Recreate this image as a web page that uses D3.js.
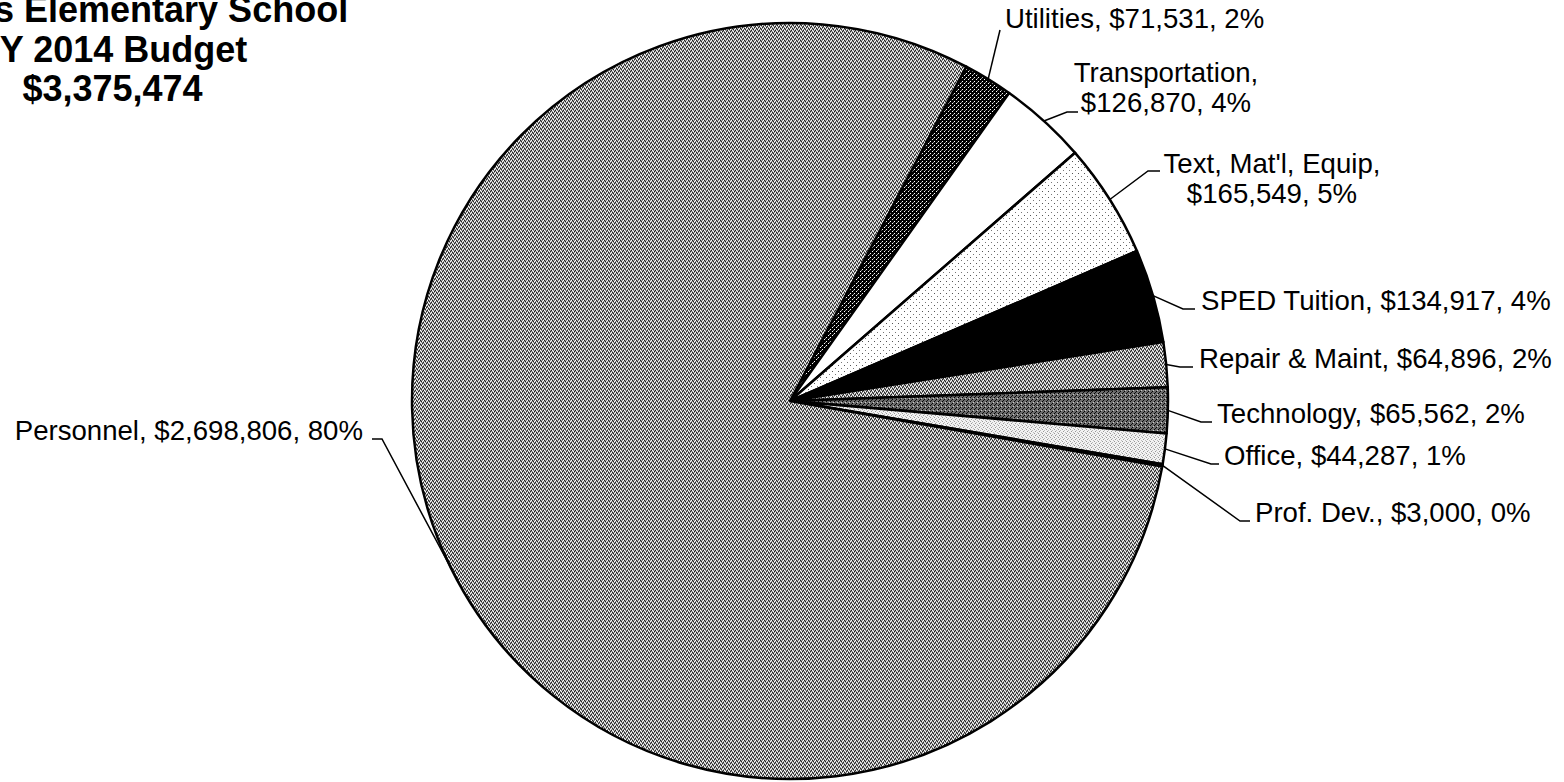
<!DOCTYPE html>
<html lang="en">
<head>
<meta charset="UTF-8">
<title>FY 2014 Budget</title>
<style>
  body { margin: 0; background: #fff; }
  svg { display: block; font-family: "Liberation Sans", Arial, sans-serif; }
</style>
</head>
<body>
<script src="https://d3js.org/d3.v7.min.js"></script>
<script>
// slices, clockwise from the top right
const categories = ["Utilities", "Transportation", "Text, Mat'l, Equip", "SPED Tuition", "Repair & Maint",
  "Technology", "Office", "Prof. Dev.", "Personnel"];
const amounts = [71531, 126870, 165549, 134917, 64896, 65562, 44287, 3000, 2698806];
const titleLines = ["s Elementary School", "FY 2014 Budget", "$3,375,474"];

const fills = ["url(#dark)", "#fff", "url(#sparse)", "#000", "url(#gray)", "url(#darkgray)", "url(#light)", "#000", "url(#gray)"];

// where each label sits, and where its leader line meets it
const labelLayout = [
  {x: 1005, y: 28, anchor: "start", hook: [1000, 30], elbow: [1000, 30]},
  {x: 1166, y: 82, anchor: "middle", wrap: true, hook: [1078, 112], elbow: [1067, 112]},
  {x: 1272, y: 173, anchor: "middle", wrap: true, hook: [1160, 171], elbow: [1148, 171]},
  {x: 1201, y: 310, anchor: "start", hook: [1195, 309], elbow: [1183, 309]},
  {x: 1199, y: 368, anchor: "start", hook: [1193, 367], elbow: [1180, 367]},
  {x: 1217, y: 423, anchor: "start", hook: [1212, 422], elbow: [1201, 422]},
  {x: 1224, y: 465, anchor: "start", hook: [1219, 464], elbow: [1211, 464]},
  {x: 1255, y: 522, anchor: "start", hook: [1250, 521], elbow: [1240, 521]},
  {x: 363, y: 440, anchor: "end", hook: [372, 439], elbow: [382, 439]}
];

const width = 1564, height = 782;
const cx = 790, cy = 401, r = 378;
const a0 = 27.8 * Math.PI / 180;

const total = d3.sum(amounts);
const money = d3.format("$,");

const svg = d3.select("body").append("svg")
  .attr("width", width)
  .attr("height", height);

// dithered fills
const defs = svg.append("defs");
function dither(id, size, base, dots) {
  const p = defs.append("pattern")
    .attr("id", id)
    .attr("patternUnits", "userSpaceOnUse")
    .attr("width", size).attr("height", size);
  p.append("rect").attr("width", size).attr("height", size).attr("fill", base);
  dots.forEach(([x, y, c]) => p.append("rect")
    .attr("x", x).attr("y", y).attr("width", 1).attr("height", 1).attr("fill", c));
}
dither("gray", 4, "#959595", [[0, 0, "#fff"], [2, 1, "#fff"], [1, 3, "#fff"], [3, 2, "#fff"],
  [1, 1, "#222"], [3, 0, "#222"], [0, 2, "#222"], [2, 3, "#222"]]);
dither("darkgray", 4, "#6c6c6c", [[0, 0, "#000"], [2, 2, "#000"], [1, 3, "#111"], [3, 1, "#ccc"]]);
dither("light", 4, "#f2f2f2", [[0, 0, "#999"], [2, 1, "#bbb"], [1, 2, "#999"], [3, 3, "#bbb"]]);
dither("dark", 4, "#000", [[0, 0, "#fff"], [2, 2, "#fff"], [3, 1, "#888"]]);
dither("sparse", 6, "#fff", [[0, 0, "#555"], [3, 3, "#777"]]);

const pie = d3.pie().sort(null).startAngle(a0).endAngle(a0 + 2 * Math.PI);
const arcs = pie(amounts);
const arc = d3.arc().innerRadius(0).outerRadius(r);
const edge = d3.arc().innerRadius(r).outerRadius(r);

const g = svg.append("g").attr("transform", `translate(${cx},${cy})`);

g.selectAll("path.slice")
  .data(arcs)
  .join("path")
  .attr("class", "slice")
  .attr("d", arc)
  .attr("fill", (d, i) => fills[i])
  .attr("stroke", "#000")
  .attr("stroke-width", 2.5)
  .attr("stroke-linejoin", "round");

// leader lines
svg.append("g")
  .selectAll("polyline")
  .data(arcs)
  .join("polyline")
  .attr("fill", "none")
  .attr("stroke", "#000")
  .attr("stroke-width", 1.5)
  .attr("points", (d, i) => {
    const [ex, ey] = edge.centroid(d);
    const L = labelLayout[i];
    return [[cx + ex, cy + ey], L.elbow, L.hook].map(p => p.join(",")).join(" ");
  });

// labels
const labels = svg.append("g")
  .attr("font-size", 27.6)
  .attr("fill", "#000");

arcs.forEach((d, i) => {
  const L = labelLayout[i];
  const name = categories[i];
  const pct = Math.round(amounts[i] / total * 100) + "%";
  const lines = L.wrap
    ? [name + ",", money(amounts[i]) + ", " + pct]
    : [name + ", " + money(amounts[i]) + ", " + pct];
  const t = labels.append("text")
    .attr("text-anchor", L.anchor);
  lines.forEach((s, k) => t.append("tspan")
    .attr("x", L.x)
    .attr("y", L.y + k * 30)
    .text(s));
});

// title, cut off at the left edge as in the source
const title = svg.append("g")
  .attr("font-size", 36)
  .attr("font-weight", "bold");
title.append("text").attr("x", -6).attr("y", 22).text(titleLines[0]);
title.append("text").attr("x", 112.5).attr("y", 62).attr("text-anchor", "middle").text(titleLines[1]);
title.append("text").attr("x", 112.5).attr("y", 101).attr("text-anchor", "middle").text(titleLines[2]);
</script>
</body>
</html>
